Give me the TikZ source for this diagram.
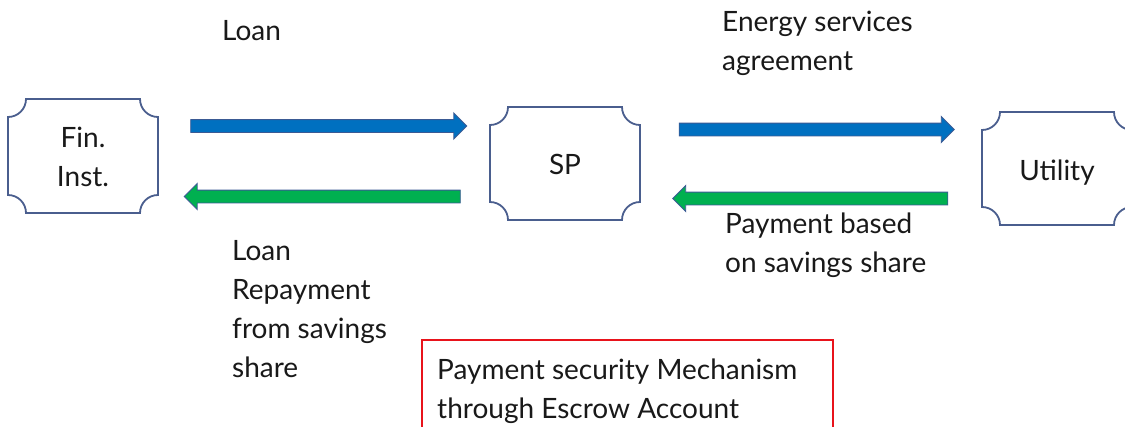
\documentclass[tikz,border=0pt]{standalone}
\usepackage{fontspec}
\setmainfont{Lato}
\usetikzlibrary{shapes.arrows}
\definecolor{arrblue}{HTML}{0070C0}
\definecolor{arrgreen}{HTML}{00B050}
\definecolor{arredge}{HTML}{3A5A94}
\definecolor{plaqueedge}{HTML}{4A5E8E}
\definecolor{escrowred}{HTML}{E8131B}
\newcommand\pr{18pt}
\newcommand\plaque[1]{%
  \draw[plaqueline] ([xshift=\pr]#1.north west) -- ([xshift=-\pr]#1.north east)
    arc[start angle=180,end angle=270,radius=\pr]
    -- ([yshift=\pr]#1.south east)
    arc[start angle=90,end angle=180,radius=\pr]
    -- ([xshift=\pr]#1.south west)
    arc[start angle=0,end angle=90,radius=\pr]
    -- ([yshift=-\pr]#1.north west)
    arc[start angle=270,end angle=360,radius=\pr] -- cycle;}
\tikzset{
  txt/.style={font=\fontsize{28}{38.8}\selectfont, text=black!90, inner sep=0pt, align=left},
  plaquebox/.style={minimum width=150pt, minimum height=114pt, inner sep=0pt, outer sep=0pt},
  plaqueline/.style={draw=plaqueedge, line width=1.8pt},
  blockarrow/.style={single arrow, minimum width=25pt, single arrow head extend=6.5pt,
    single arrow head indent=0pt, inner xsep=0pt, inner ysep=6pt, outer sep=0pt,
    draw=arredge, line width=0.9pt},
  escrowbox/.style={draw=escrowred, line width=1.3pt, inner sep=0pt, outer sep=0pt}
}
\begin{document}
\begin{tikzpicture}[x=1pt,y=1pt]
\clip (0,0) rectangle (1125,-426);
\fill[white] (0,0) rectangle (1125,-426);
% boxes
\node[plaquebox] (fin) at (83,-156) {};
\node[plaquebox, minimum height=113pt] (sp) at (565,-163.5) {};
\node[plaquebox, minimum height=113pt] (util) at (1057,-168.5) {};
\plaque{fin}
\plaque{sp}
\plaque{util}
\node[txt, align=center, anchor=base] (fintxt) at ([yshift=-30pt]fin.center) {Fin.\\Inst.};
\node[txt, anchor=base] (sptxt) at ([yshift=-10.5pt]sp.center) {SP};
\node[txt, anchor=base] (utiltxt) at ([yshift=-11.5pt]util.center) {Utility};
% arrows
\node[blockarrow, fill=arrblue, minimum height=276pt] (loanarr) at (325.5,-126) {};
\node[blockarrow, fill=arrgreen, minimum height=276pt, shape border rotate=180] (repayarr) at (325.5,-196.5) {};
\node[blockarrow, fill=arrblue, minimum height=275pt] (esaarr) at (813.5,-129.5) {};
\node[blockarrow, fill=arrgreen, minimum height=275pt, shape border rotate=180] (payarr) at (813.5,-198.5) {};
% labels
\node[txt, anchor=base west] (loanlbl) at (222,-40) {Loan};
\node[txt, anchor=base west] (esalbl) at (722,-70) {Energy services\\agreement};
\node[txt, anchor=base west] (repaylbl) at (232,-377) {Loan\\Repayment\\from savings\\share};
\node[txt, anchor=base west] (paylbl) at (725,-272) {Payment based\\on savings share};
% escrow
\node[escrowbox, anchor=north west, minimum width=411pt, minimum height=120pt] (escrow) at (422,-340) {};
\node[txt, anchor=base west] (escrowlbl) at ([xshift=15pt,yshift=-78pt]escrow.north west) {Payment security Mechanism\\through Escrow Account};
\end{tikzpicture}
\end{document}
